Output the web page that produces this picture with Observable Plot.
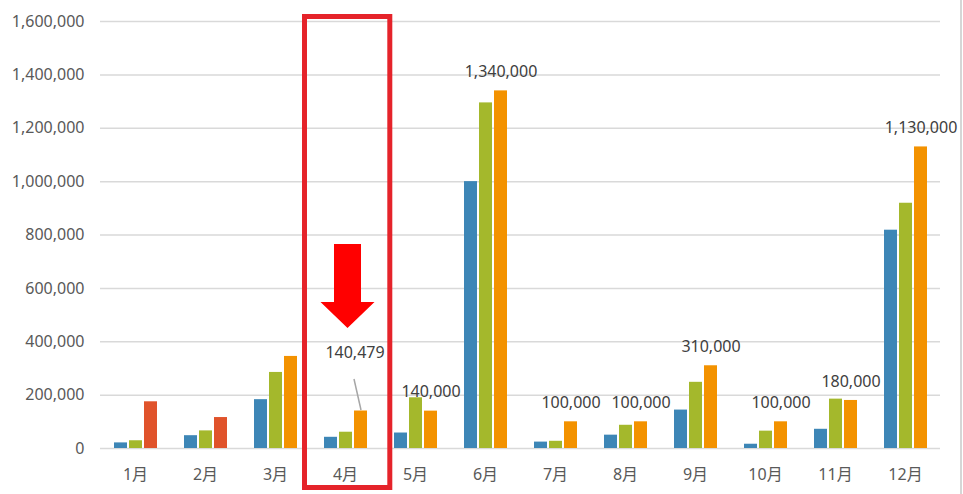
<!DOCTYPE html>
<html><head><meta charset="utf-8">
<script src="https://cdn.jsdelivr.net/npm/d3@7"></script>
<script src="https://cdn.jsdelivr.net/npm/@observablehq/plot@0.6"></script>
<style>
body{margin:0;background:#fff;}
#wrap{position:relative;width:963px;height:494px;overflow:hidden;background:#fff;}
#edge{position:absolute;left:960px;top:0;width:2px;height:494px;background:#d6d6d6;}
</style></head><body><div id="wrap"><div id="edge"></div></div>
<script>
const months = ["1月","2月","3月","4月","5月","6月","7月","8月","9月","10月","11月","12月"];
const seriesNames = ["A","B","C"];
const blue   = [21000, 48000, 183000, 42000, 58000, 1000000, 24000, 50000, 144000, 16000, 72000, 818000];
const green  = [29000, 66000, 285000, 61000, 190000, 1295000, 27000, 87000, 248000, 65000, 185000, 919000];
const orange = [175000, 116000, 345000, 140479, 140000, 1340000, 100000, 100000, 310000, 100000, 180000, 1130000];
const yTicks = [0, 200000, 400000, 600000, 800000, 1000000, 1200000, 1400000, 1600000];
const labeledMonths = ["5月","6月","7月","8月","9月","10月","11月","12月"];
const calloutMonth = "4月";

const rows = [];
months.forEach((m, i) => {
  rows.push({month: m, i, series: "A", value: blue[i]});
  rows.push({month: m, i, series: "B", value: green[i]});
  rows.push({month: m, i, series: "C", value: orange[i]});
});
const colorOf = d => d.series === "A" ? "#3d86b6" : d.series === "B" ? "#a4b82c" : (d.i < 2 ? "#e0532b" : "#f39200");
const third = rows.filter(d => d.series === "C");
const fmt = d3.format(",");

const arrowSymbol = {draw(ctx) {
  ctx.moveTo(-13.5, -42); ctx.lineTo(13.5, -42); ctx.lineTo(13.5, 16); ctx.lineTo(27, 16);
  ctx.lineTo(0, 42); ctx.lineTo(-27, 16); ctx.lineTo(-13.5, 16); ctx.closePath();
}};
const leaderSymbol = {draw(ctx) { ctx.moveTo(0, 0); ctx.lineTo(-7, -31); }};

const FS = 16;
const chart = Plot.plot({
  width: 960, height: 494,
  marginTop: 21, marginBottom: 46, marginLeft: 100, marginRight: 20,
  style: {fontFamily: '"Noto Sans","Noto Sans CJK JP",sans-serif', fontSize: FS + "px", color: "#595959", background: "transparent"},
  fx: {domain: months, padding: 0, label: null},
  x: {domain: seriesNames, axis: null, paddingInner: 0.161, paddingOuter: 0.839},
  y: {domain: [0, 1600000], label: null},
  color: {type: "identity"},
  marks: [
    Plot.gridY(yTicks, {stroke: "#d9d9d9", strokeOpacity: 1, strokeWidth: 1.5}),
    Plot.axisY(yTicks, {tickSize: 0, tickPadding: 16, tickFormat: fmt, label: null, fill: "#595959", fontSize: FS}),
    Plot.axisFx({anchor: "bottom", tickSize: 0, tickPadding: 20, label: null, fill: "#595959", fontSize: FS}),
    Plot.barY(rows, {fx: "month", x: "series", y: "value", fill: colorOf}),
    Plot.text(third.filter(d => labeledMonths.includes(d.month)), {fx: "month", x: "series", y: "value", text: d => fmt(d.value), dy: -19, fill: "#404040", fontSize: FS}),
    Plot.text(third.filter(d => d.month === calloutMonth), {fx: "month", x: "series", y: "value", text: d => fmt(d.value), dy: -58, dx: -6, fill: "#404040", fontSize: FS}),
    Plot.dot(third.filter(d => d.month === calloutMonth), {fx: "month", x: "series", y: "value", dy: -1, symbol: leaderSymbol, stroke: "#a6a6a6", strokeWidth: 1.5, fill: "none"}),
    Plot.dot(third.filter(d => d.month === calloutMonth), {fx: "month", y: "value", dy: -125, dx: 2, symbol: arrowSymbol, fill: "#ff0000", stroke: "none"}),
    Plot.rect([{month: calloutMonth}], {fx: "month", stroke: "#e5232a", strokeWidth: 5, fill: "none", insetLeft: -5.5, insetRight: -9.8, insetTop: -4.5, insetBottom: -39.5})
  ]
});
document.getElementById("wrap").prepend(chart);
</script>
</body></html>
